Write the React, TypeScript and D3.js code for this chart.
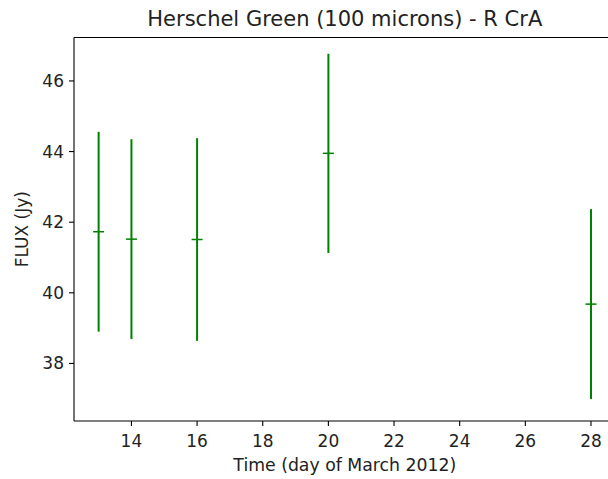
import React from "react";
import * as d3 from "d3";

const days = [13, 14, 16, 20, 28];
const flux = [41.73, 41.52, 41.51, 43.95, 39.68];
const fluxErr = [2.83, 2.83, 2.87, 2.82, 2.69];
const xTicks = [14, 16, 18, 20, 22, 24, 26, 28];
const yTicks = [38, 40, 42, 44, 46];
const title = "Herschel Green (100 microns) - R CrA";
const xLabel = "Time (day of March 2012)";
const yLabel = "FLUX (Jy)";

const W = 608;
const H = 479;
const left = 74;
const right = 615.6;
const top = 37.5;
const bottom = 421;
const font = "DejaVu Sans, sans-serif";
const green = "#008000";

export default function App() {
  const x = d3.scaleLinear().domain([12.25, 28.75]).range([left, right]);
  const y = d3.scaleLinear().domain([36.37, 47.23]).range([bottom, top]);
  return (
    <div style={{ position: "fixed", left: 0, top: 0, width: W, height: H, overflow: "hidden" }}>
      <svg width={W} height={H} style={{ display: "block" }} fontFamily={font}>
        <rect x={0} y={0} width={W} height={H} fill="white" />
        {days.map((d, i) => (
          <g key={i}>
            <line
              x1={x(d)}
              x2={x(d)}
              y1={y(flux[i] - fluxErr[i])}
              y2={y(flux[i] + fluxErr[i])}
              stroke={green}
              strokeWidth={2}
            />
            <line
              x1={x(d) - 5.5}
              x2={x(d) + 5.5}
              y1={y(flux[i])}
              y2={y(flux[i])}
              stroke={green}
              strokeWidth={1.5}
            />
          </g>
        ))}
        <line x1={left} x2={left} y1={top} y2={bottom} stroke="black" strokeWidth={1.1} />
        <line x1={left} x2={W} y1={bottom} y2={bottom} stroke="black" strokeWidth={1.1} />
        <line x1={left} x2={W} y1={top} y2={top} stroke="black" strokeWidth={1.1} />
        {xTicks.map((t) => (
          <g key={t}>
            <line x1={x(t)} x2={x(t)} y1={bottom} y2={bottom + 5} stroke="black" strokeWidth={1.1} />
            <text x={x(t)} y={bottom + 26} textAnchor="middle" fontSize={17} fill="#222">
              {t}
            </text>
          </g>
        ))}
        {yTicks.map((t) => (
          <g key={t}>
            <line x1={left - 5} x2={left} y1={y(t)} y2={y(t)} stroke="black" strokeWidth={1.1} />
            <text x={left - 10} y={y(t) + 6} textAnchor="end" fontSize={17} fill="#222">
              {t}
            </text>
          </g>
        ))}
        <text x={(left + right) / 2} y={26} textAnchor="middle" fontSize={21} fill="#222">
          {title}
        </text>
        <text x={(left + right) / 2} y={471} textAnchor="middle" fontSize={17.3} fill="#222">
          {xLabel}
        </text>
        <text
          transform={`translate(28, ${(top + bottom) / 2}) rotate(-90)`}
          textAnchor="middle"
          fontSize={17}
          fill="#222"
        >
          {yLabel}
        </text>
      </svg>
    </div>
  );
}
